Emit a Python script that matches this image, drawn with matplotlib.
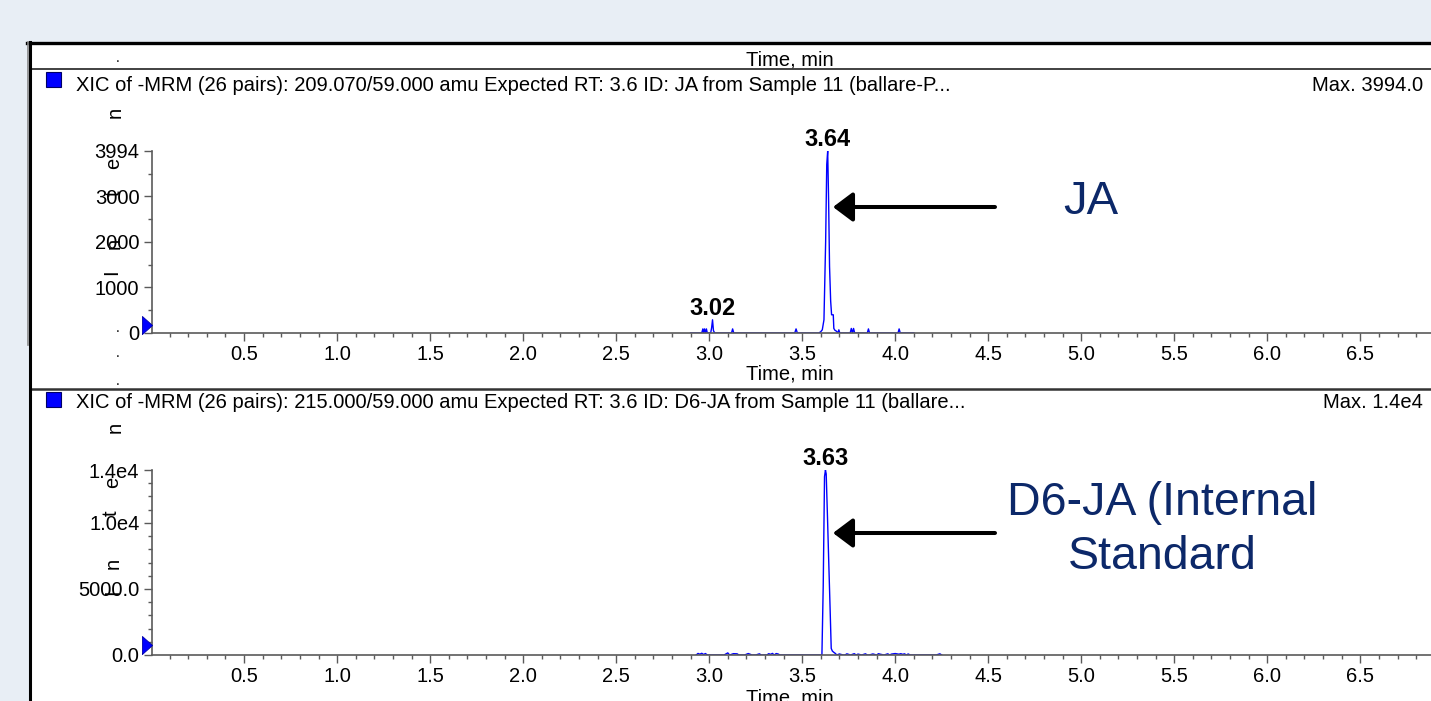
import matplotlib
matplotlib.use("Agg")
import matplotlib.pyplot as plt
from matplotlib.lines import Line2D
from matplotlib.patches import Rectangle, FancyArrowPatch
from matplotlib.ticker import MultipleLocator, FixedLocator, FixedFormatter
import matplotlib.transforms as mtransforms

plt.rcParams['font.family'] = ['Liberation Sans', 'DejaVu Sans']

# ---------------- data ----------------
JA_time = [2.90, 2.960, 2.966, 2.970, 2.975, 2.980, 2.985, 2.990,
           3.008, 3.013, 3.018, 3.023, 3.030,
           3.120, 3.126, 3.132,
           3.460, 3.467, 3.474,
           3.590, 3.600, 3.608, 3.617, 3.626, 3.632, 3.637, 3.642, 3.647,
           3.653, 3.658, 3.667, 3.670, 3.676, 3.684, 3.692,
           3.697, 3.702,
           3.758, 3.764, 3.770, 3.776, 3.782,
           3.850, 3.856, 3.862,
           4.015, 4.021, 4.027,
           4.10]
JA_intensity = [0, 0, 90, 0, 90, 0, 90, 0,
                0, 110, 290, 50, 0,
                0, 90, 0,
                0, 90, 0,
                0, 30, 70, 290, 2000, 3700, 3994, 2900, 1460,
                700, 400, 400, 100, 60, 40, 0,
                70, 0,
                0, 100, 0, 100, 0,
                0, 90, 0,
                0, 90, 0,
                0]

D6_time = [2.93, 2.94, 2.95, 2.96, 2.97, 2.98, 2.99, 3.00, 3.02, 3.04,
           3.06, 3.08, 3.09, 3.10, 3.11, 3.13, 3.15, 3.16, 3.17, 3.19,
           3.21, 3.22, 3.23, 3.25, 3.27, 3.28, 3.29, 3.31, 3.32, 3.33,
           3.34, 3.35, 3.36, 3.37, 3.38, 3.40, 3.42, 3.44, 3.46, 3.48,
           3.50, 3.52, 3.54, 3.56, 3.58, 3.60,
           3.606, 3.613, 3.620, 3.625, 3.629, 3.636, 3.643, 3.650, 3.656,
           3.662, 3.670, 3.678, 3.686,
           3.70, 3.72, 3.73, 3.74, 3.76, 3.78, 3.79, 3.80, 3.82, 3.84,
           3.85, 3.86, 3.88, 3.90, 3.91, 3.92, 3.94, 3.96, 3.97, 3.98,
           4.00, 4.02, 4.03, 4.04, 4.05, 4.06, 4.07, 4.08, 4.10, 4.12,
           4.14, 4.16, 4.18, 4.20, 4.22, 4.24, 4.25]
D6_intensity = [0, 120, 60, 130, 40, 110, 0, 0, 0, 0,
                0, 0, 80, 160, 0, 100, 90, 0, 0, 0,
                110, 60, 0, 0, 90, 0, 0, 0, 100, 50,
                120, 0, 110, 80, 0, 0, 0, 0, 0, 0,
                0, 0, 0, 0, 0, 0,
                0, 5200, 13500, 14000, 13700, 10400, 6900, 3500, 500,
                300, 200, 120, 0,
                80, 0, 0, 90, 0, 100, 0, 70, 0, 90,
                0, 0, 80, 0, 100, 60, 0, 90, 0, 70,
                110, 60, 100, 50, 90, 0, 80, 0, 0, 0,
                0, 0, 0, 0, 0, 90, 0]

JA_peaks = [3.02, 3.64]
JA_peak_times = [3.018, 3.637]
JA_peak_heights = [290, 3994]
D6_peaks = [3.63]
D6_peak_times = [3.625]
D6_peak_heights = [14000]

x_ticks = [0.5, 1.0, 1.5, 2.0, 2.5, 3.0, 3.5, 4.0, 4.5, 5.0, 5.5, 6.0, 6.5]
JA_yticks = [0, 1000, 2000, 3000, 3994]
JA_yticklabels = ["0", "1000", "2000", "3000", "3994"]
D6_yticks = [0, 5000, 10000, 14000]
D6_yticklabels = ["0.0", "5000.0", "1.0e4", "1.4e4"]

header_top = "XIC of -MRM (26 pairs): 209.070/59.000 amu Expected RT: 3.6 ID: JA from Sample 11 (ballare-P..."
header_bot = "XIC of -MRM (26 pairs): 215.000/59.000 amu Expected RT: 3.6 ID: D6-JA from Sample 11 (ballare..."
max_top = "Max. 3994.0"
max_bot = "Max. 1.4e4"

# ---------------- figure ----------------
W, H = 1431, 701
fig = plt.figure(figsize=(W / 100, H / 100), dpi=100)
fig.patch.set_facecolor('#e8eef5')

def fx(x):
    return x / W

def fy(y):
    return 1 - y / H

FS = 14.5
GRAY = '#5a5a5a'
BLUE = '#0000ff'
NAVY = '#0c2869'

# white panel
fig.add_artist(Rectangle((fx(30), 0), 1 - fx(30), fy(42), transform=fig.transFigure,
                         facecolor='white', edgecolor='none', zorder=-5))

def setup_axis(ax, yticks, ylabels, ymax):
    ax.set_xlim(0.005, 6.88)
    ax.set_ylim(0, ymax)
    ax.patch.set_alpha(0)
    for s in ['top', 'right']:
        ax.spines[s].set_visible(False)
    for s in ['left', 'bottom']:
        ax.spines[s].set_color(GRAY)
        ax.spines[s].set_linewidth(1.2)
    ax.xaxis.set_major_locator(FixedLocator(x_ticks))
    ax.xaxis.set_major_formatter(FixedFormatter([f"{v:.1f}" for v in x_ticks]))
    ax.xaxis.set_minor_locator(MultipleLocator(0.1))
    ax.yaxis.set_major_locator(FixedLocator(yticks))
    ax.yaxis.set_major_formatter(FixedFormatter(ylabels))
    ax.tick_params(axis='both', which='major', length=5.5, width=1.0, color=GRAY,
                   labelsize=FS, pad=3.5)
    ax.tick_params(axis='both', which='minor', length=3, width=1.0, color=GRAY)

ax1 = fig.add_axes([fx(152), fy(333), fx(1431) - fx(152), fy(151) - fy(333)])
ax2 = fig.add_axes([fx(152), fy(655), fx(1431) - fx(152), fy(470) - fy(655)])

setup_axis(ax1, JA_yticks, JA_yticklabels, 3994)
ax1.yaxis.set_minor_locator(MultipleLocator(500))
setup_axis(ax2, D6_yticks, D6_yticklabels, 14000)
ax2.yaxis.set_minor_locator(MultipleLocator(1000))

ax1.plot(JA_time, JA_intensity, color=BLUE, lw=1.0, zorder=2)
ax2.plot(D6_time, D6_intensity, color=BLUE, lw=1.0, zorder=2)

for lab, t, h in zip(JA_peaks, JA_peak_times, JA_peak_heights):
    ax1.annotate(f"{lab:.2f}", xy=(t, h), xytext=(0, 0), textcoords='offset points',
                 ha='center', va='bottom', fontsize=17, fontweight='bold', annotation_clip=False)
for lab, t, h in zip(D6_peaks, D6_peak_times, D6_peak_heights):
    ax2.annotate(f"{lab:.2f}", xy=(t, h), xytext=(0, 0), textcoords='offset points',
                 ha='center', va='bottom', fontsize=17, fontweight='bold', annotation_clip=False)

# blue triangles at baseline (left of the y axis)
tri = [(-0.28, -0.5), (0.28, 0.0), (-0.28, 0.5), (-0.28, -0.5)]
for ax, frac in [(ax1, 0.045), (ax2, 0.055)]:
    off = mtransforms.ScaledTranslation(-5 / 100, 0, fig.dpi_scale_trans)
    ax.plot([0], [frac], marker=tri, markersize=13, color=BLUE, markeredgecolor='#0000aa',
            markeredgewidth=0.6, transform=ax.transAxes + off, clip_on=False, zorder=5)

# frame lines
def hline(y, x0, x1, lw, color):
    fig.add_artist(Line2D([fx(x0), fx(x1)], [fy(y), fy(y)], transform=fig.transFigure,
                          lw=lw, color=color, zorder=10))

def vline(x, y0, y1, lw, color):
    fig.add_artist(Line2D([fx(x), fx(x)], [fy(y0), fy(y1)], transform=fig.transFigure,
                          lw=lw, color=color, zorder=10))

hline(42.5, 27, 1431, 2.4, 'black')
hline(69, 30, 1431, 1.3, '#333333')
hline(389, 30, 1431, 1.8, '#333333')
vline(30, 42, 701, 2.2, 'black')
vline(27.5, 42, 345, 1.2, '#888888')

# headers
for ysq, ybase, txt, mx in [(72, 91, header_top, max_top), (392, 408, header_bot, max_bot)]:
    fig.add_artist(Rectangle((fx(46), fy(ysq + 15)), fx(15), 15 / H, transform=fig.transFigure,
                             facecolor=BLUE, edgecolor='#000066', lw=0.8, zorder=10))
    fig.text(fx(76), fy(ybase), txt, ha='left', va='baseline', fontsize=FS)
    fig.text(fx(1423), fy(ybase), mx, ha='right', va='baseline', fontsize=FS)

# axis titles "Time, min"
for yb in [66, 379, 704]:
    fig.text(fx(790), fy(yb), "Time, min", ha='center', va='baseline', fontsize=FS)

# stray rotated y-label fragments
for (x, y, ch) in [(115, 112, 'n'), (114, 163, 'e'), (114, 193, 't'), (114, 243, 'n'), (112, 272, 'I'),
                   (115, 427, 'n'), (113, 482, 'e'), (111, 513, 't'), (113, 563, 'n'), (113, 592, 'I')]:
    fig.text(fx(x), fy(y), ch, rotation=90, ha='center', va='center', fontsize=FS)
for (x, y) in [(118, 58), (118, 328), (118, 353), (118, 381)]:
    fig.text(fx(x), fy(y), '.', ha='center', va='center', fontsize=10)

# annotation arrows and labels
for yA in [207, 533]:
    fig.add_artist(FancyArrowPatch(
        (fx(995), fy(yA)), (fx(833), fy(yA)), transform=fig.transFigure,
        arrowstyle='-|>,head_length=0.6,head_width=0.45', mutation_scale=20,
        lw=2.9, color='black', shrinkA=0, shrinkB=0, zorder=12))

fig.text(fx(1091), fy(202), "JA", ha='center', va='center', fontsize=34, color=NAVY)
fig.text(fx(1162), fy(530), "D6-JA (Internal\nStandard", ha='center', va='center',
         fontsize=33.5, color=NAVY, linespacing=1.3)

fig.savefig("out.png", dpi=100, facecolor=fig.get_facecolor())
